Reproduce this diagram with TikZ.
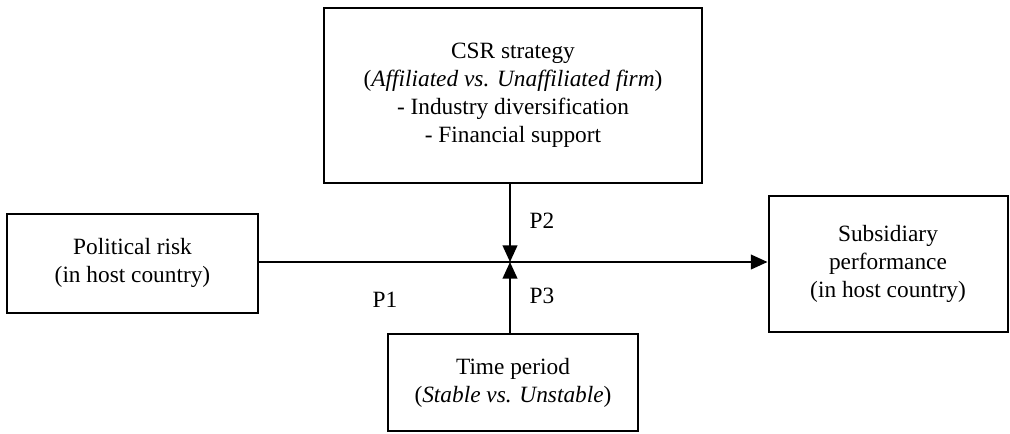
\documentclass[tikz,border=0pt]{standalone}
\usepackage{fontspec}
\setmainfont{Liberation Serif}
\usetikzlibrary{arrows.meta}
\begin{document}
\begin{tikzpicture}[x=0.75pt,y=-0.75pt,
  box/.style={draw, line width=1.5pt, align=center, inner sep=0pt,
    font=\fontsize{17.5}{21}\selectfont},
  conn/.style={line width=1.5pt, -{Triangle[length=12.5pt,width=11pt]}},
  lab/.style={font=\fontsize{17.5}{21}\selectfont}]
\useasboundingbox (0,0) rectangle (1010,433);
\node[box, minimum width=378*0.75pt, minimum height=175*0.75pt] (csr) at (513,95.5)
  {CSR strategy\\(\textit{Affiliated vs. Unaffiliated firm})\\- Industry diversification\\- Financial support};
\node[box, minimum width=251*0.75pt, minimum height=99*0.75pt] (pol) at (132.5,263)
  {Political risk\\(in host country)};
\node[box, minimum width=239*0.75pt, minimum height=136*0.75pt] (sub) at (888,264)
  {Subsidiary\\performance\\(in host country)};
\node[box, minimum width=250*0.75pt, minimum height=97*0.75pt] (time) at (513,382.5)
  {Time period\\(\textit{Stable vs. Unstable})};
\coordinate (j) at (510,262);
\draw[conn] (pol.east |- j) -- (sub.west |- j);
\draw[conn] (csr.south -| j) -- (j);
\draw[conn] (time.north -| j) -- (j);
\node[lab] (p1) at (385,300) {P1};
\node[lab] (p2) at (542,221) {P2};
\node[lab] (p3) at (542,296) {P3};
\end{tikzpicture}
\end{document}
